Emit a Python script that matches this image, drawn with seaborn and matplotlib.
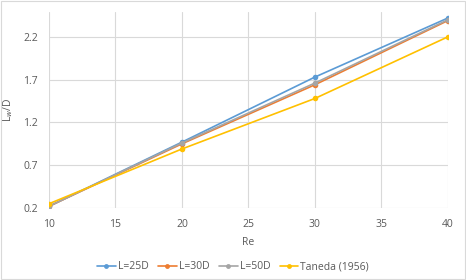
import matplotlib
matplotlib.use("Agg")
import matplotlib.pyplot as plt
import seaborn as sns
import pandas as pd
from matplotlib.patches import Rectangle

re_vals = [10, 20, 30, 40]
l25 = [0.22, 0.97, 1.73, 2.42]
l30 = [0.22, 0.95, 1.64, 2.39]
l50 = [0.22, 0.96, 1.66, 2.40]
taneda = [0.25, 0.89, 1.48, 2.20]
series = ["L=25D", "L=30D", "L=50D", "Taneda (1956)"]
colors = ["#5B9BD5", "#ED7D31", "#A5A5A5", "#FFC000"]

rows = []
for name, vals in zip(series, [l25, l30, l50, taneda]):
    for r, v in zip(re_vals, vals):
        rows.append({"Re": r, "Lw/D": v, "series": name})
df = pd.DataFrame(rows)

sns.set_style("white")
plt.rcParams['font.family'] = ['Open Sans', 'DejaVu Sans']

fig = plt.figure(figsize=(4.66, 2.8), dpi=100)
ax = fig.add_axes([0.105, 0.257, 0.856, 0.700])

sns.lineplot(data=df, x="Re", y="Lw/D", hue="series", palette=colors,
             marker="o", markersize=4, markeredgewidth=0, linewidth=1.2,
             ax=ax, legend=False)

ax.set_xlim(10, 40)
ax.set_ylim(0.2, 2.49)
ax.set_xticks([10, 15, 20, 25, 30, 35, 40])
ax.set_yticks([0.2, 0.7, 1.2, 1.7, 2.2])
ax.set_yticklabels(["0.2", "0.7", "1.2", "1.7", "2.2"])
ax.grid(True, color="#D9D9D9", linewidth=0.8)
for s in ax.spines.values():
    s.set_visible(False)
ax.tick_params(axis="both", length=0, labelsize=7.5, colors="#595959", pad=8)
ax.set_xlabel("Re", fontsize=7.5, color="#595959", labelpad=5)
ax.set_ylabel("L$_w$/D", fontsize=7.5, color="#595959", labelpad=6)

handles = [plt.Line2D([], [], color=c, marker="o", markersize=3.5, markeredgewidth=0, linewidth=1.2)
           for c in colors]
fig.legend(handles, series, loc="center", bbox_to_anchor=(0.5, 0.047), ncol=4, frameon=False,
           fontsize=7.5, labelcolor="#595959", handlelength=1.8, handletextpad=0.2, columnspacing=0.9)

fig.patches.append(Rectangle((0.002, 0.002), 0.996, 0.996, transform=fig.transFigure,
                             fill=False, edgecolor="#D9D9D9", linewidth=0.8))

fig.savefig("out.png", dpi=100)
